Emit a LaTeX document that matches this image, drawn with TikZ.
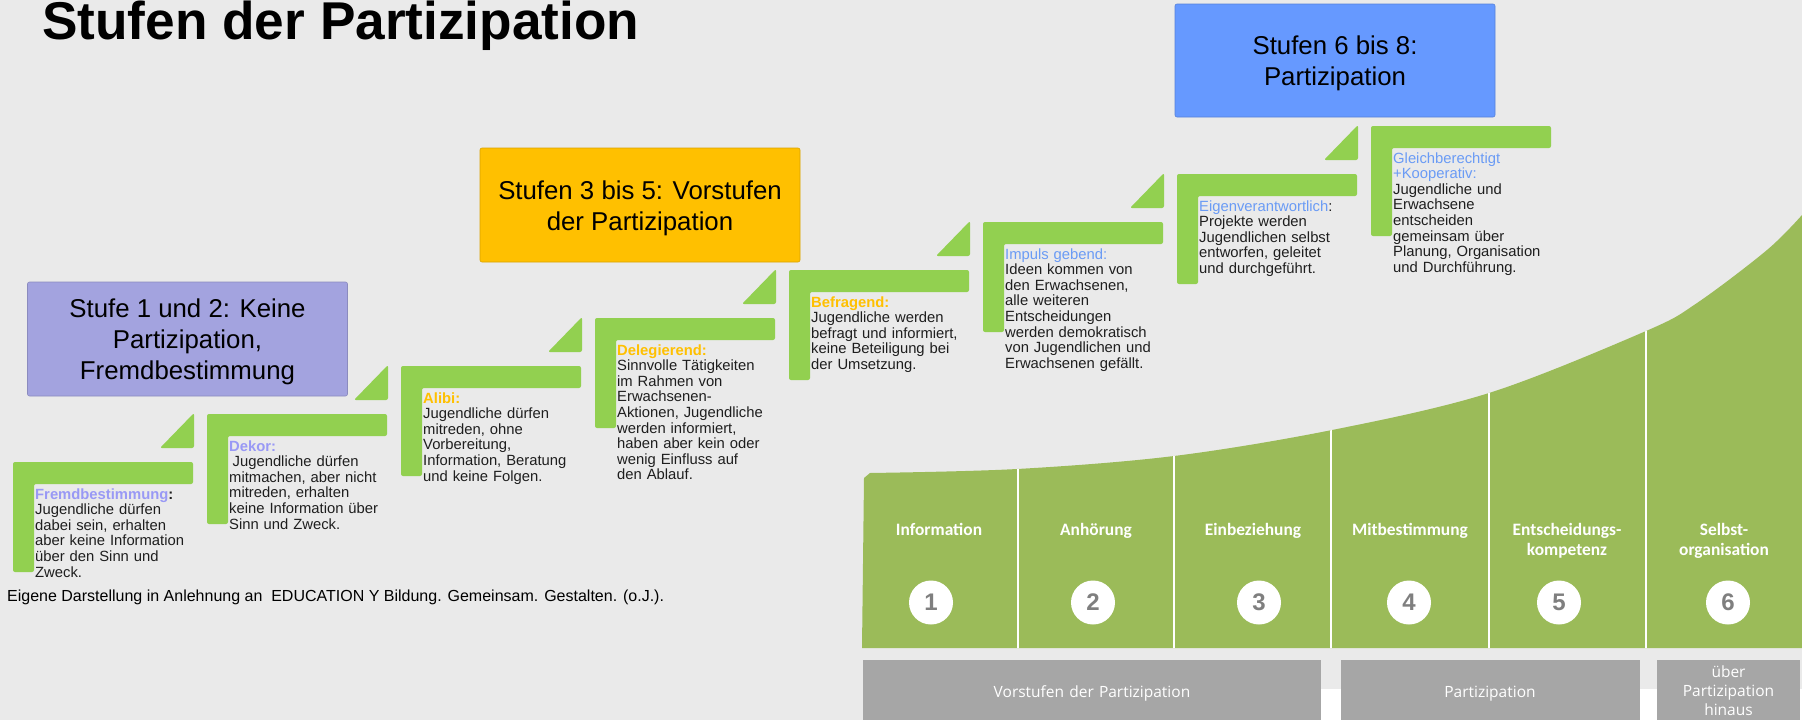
\documentclass[tikz,border=0pt]{standalone}
\usepackage{fontspec}
\setmainfont{Liberation Sans}
\newfontfamily\carl{Carlito}
\newfontfamily\opsans{Open Sans}
\definecolor{bg}{HTML}{EAEAEA}
\definecolor{stepgreen}{HTML}{92D050}
\definecolor{biggreen}{HTML}{9BBB59}
\definecolor{lavbox}{HTML}{A3A3DF}
\definecolor{orbox}{HTML}{FFC000}
\definecolor{bluebox}{HTML}{6699FF}
\definecolor{lavlab}{HTML}{9999F5}
\definecolor{orlab}{HTML}{FFC000}
\definecolor{bluelab}{HTML}{6A9BF5}
\definecolor{graybox}{HTML}{A6A6A6}
\definecolor{numgray}{HTML}{7F7F7F}
\definecolor{txt}{HTML}{1E1E1E}
\begin{document}
\begin{tikzpicture}[x=1pt,y=-1pt,
  stepshape/.style={fill=stepgreen, rounded corners=2pt},
  steptext/.style={anchor=base west, inner sep=0pt, text width=185pt, align=left,
    font=\fontsize{14.8pt}{15.6pt}\selectfont, text=txt},
  headbox/.style={draw=#1!85!black, line width=0.6pt, fill=#1, rounded corners=2pt,
    minimum width=320pt, minimum height=114pt, inner sep=0pt},
  headtext/.style={inner sep=0pt, align=center, yshift=-3pt,
    font=\fontsize{25.8pt}{30.7pt}\selectfont, text=black},
  collabel/.style={anchor=base, inner sep=0pt, text width=150pt, align=center,
    font=\carl\bfseries\fontsize{17.4pt}{20pt}\selectfont, text=white},
  numcircle/.style={circle, fill=white, minimum size=44pt, inner sep=0pt,
    font=\bfseries\fontsize{24pt}{24pt}\selectfont, text=numgray},
  graylabel/.style={anchor=base, inner sep=0pt, text width=300pt, align=center,
    font=\opsans\fontsize{15.5pt}{19pt}\selectfont, text=white}
]
\useasboundingbox (0,0) rectangle (1802,720);
\fill[bg] (0,0) rectangle (1802,720);

% title
\node[anchor=base west, inner sep=0pt, font=\bfseries\fontsize{53.2pt}{60pt}\selectfont] (title) at (42,39) {Stufen der Partizipation};

% header boxes
\node[headbox=lavbox] (h1) at (187.5,339) {};
\node[headtext] (h1t) at (h1.center) {Stufe 1 und 2: Keine\\Partizipation,\\Fremdbestimmung};
\node[headbox=orbox] (h2) at (640,205) {};
\node[headtext] (h2t) at (h2.center) {Stufen 3 bis 5: Vorstufen\\der Partizipation};
\node[headbox=bluebox, minimum height=113pt] (h3) at (1335,60.5) {};
\node[headtext] (h3t) at (h3.center) {Stufen 6 bis 8:\\Partizipation};

% stair steps
\foreach \n in {0,...,7}{
  \pgfmathsetmacro{\l}{13+194*\n}
  \pgfmathsetmacro{\t}{462-48*\n}
  \fill[stepshape] (\l,\t) -- (\l+180,\t) -- (\l+180,\t+22) -- (\l+21,\t+22) -- (\l+21,\t+110) -- (\l,\t+110) -- cycle;
}
\foreach \n in {0,...,6}{
  \pgfmathsetmacro{\l}{13+194*\n}
  \pgfmathsetmacro{\t}{462-48*\n}
  \fill[stepshape] (\l+147,\t-14) -- (\l+181,\t-14) -- (\l+181,\t-49) -- cycle;
}

% step texts
\node[steptext] (s0) at (35,499) {\textbf{{\color{lavlab}Fremdbestimmung}:}\\Jugendliche dürfen\\dabei sein, erhalten\\aber keine Information\\über den Sinn und\\Zweck.};
\node[steptext] (s1) at (229,451) {\textbf{\color{lavlab}Dekor:}\\\hspace*{3.5pt}Jugendliche dürfen\\mitmachen, aber nicht\\mitreden, erhalten\\keine Information über\\Sinn und Zweck.};
\node[steptext] (s2) at (423,403) {\textbf{\color{orlab}Alibi:}\\Jugendliche dürfen\\mitreden, ohne\\Vorbereitung,\\Information, Beratung\\und keine Folgen.};
\node[steptext] (s3) at (617,355) {\textbf{\color{orlab}Delegierend:}\\Sinnvolle Tätigkeiten\\im Rahmen von\\Erwachsenen-\\Aktionen, Jugendliche\\werden informiert,\\haben aber kein oder\\wenig Einfluss auf\\den Ablauf.};
\node[steptext] (s4) at (811,307) {\textbf{\color{orlab}Befragend:}\\Jugendliche werden\\befragt und informiert,\\keine Beteiligung bei\\der Umsetzung.};
\node[steptext] (s5) at (1005,259) {{\color{bluelab}Impuls gebend:}\\Ideen kommen von\\den Erwachsenen,\\alle weiteren\\Entscheidungen\\werden demokratisch\\von Jugendlichen und\\Erwachsenen gefällt.};
\node[steptext] (s6) at (1199,211) {{\color{bluelab}Eigenverantwortlich}:\\Projekte werden\\Jugendlichen selbst\\entworfen, geleitet\\und durchgeführt.};
\node[steptext] (s7) at (1393,163) {{\color{bluelab}Gleichberechtigt\\+Kooperativ:}\\Jugendliche und\\Erwachsene\\entscheiden\\gemeinsam über\\Planung, Organisation\\und Durchführung.};

% caption
\node[anchor=base west, inner sep=0pt, font=\fontsize{16pt}{18pt}\selectfont] (cap) at (7,601) {Eigene Darstellung in Anlehnung an\ \ EDUCATION Y Bildung. Gemeinsam. Gestalten. (o.J.).};

% big green graphic
\def\greenpath{(862,648) -- (864,478) -- (870,473) -- plot[smooth, tension=0.55] coordinates {(870,473) (1017,469) (1174,456) (1332,430) (1489,393) (1646,331) (1697,303) (1767,250) (1802,215)} -- (1802,648) -- cycle}
\fill[biggreen] \greenpath;
\begin{scope}
\clip \greenpath;
\foreach \x in {1018,1174,1331,1489,1646}{
  \draw[white, line width=2.6pt] (\x,150) -- (\x,650);
}
\end{scope}

% column labels
\node[collabel] (l1) at (939,535) {Information};
\node[collabel] (l2) at (1096,535) {Anhörung};
\node[collabel] (l3) at (1253,535) {Einbeziehung};
\node[collabel] (l4) at (1410,535) {Mitbestimmung};
\node[collabel] (l5) at (1567,535) {Entscheidungs-\\kompetenz};
\node[collabel] (l6) at (1724,535) {Selbst-\\organisation};

% number circles
\node[numcircle] (c1) at (931,602.5) {1};
\node[numcircle] (c2) at (1093,602.5) {2};
\node[numcircle] (c3) at (1259,602.5) {3};
\node[numcircle] (c4) at (1409,602.5) {4};
\node[numcircle] (c5) at (1559,602.5) {5};
\node[numcircle] (c6) at (1728,602.5) {6};

% bottom bands
\fill[white] (1321,689) rectangle (1802,720);
\fill[graybox] (863,660) rectangle (1321,722);
\fill[graybox] (1341,660) rectangle (1640,722);
\fill[graybox] (1657,660) rectangle (1800,722);
\node[graylabel] (g1) at (1092,697) {Vorstufen der Partizipation};
\node[graylabel] (g2) at (1490,697) {Partizipation};
\node[graylabel, text width=140pt] (g3) at (1728.5,677) {über\\Partizipation\\hinaus};
\end{tikzpicture}
\end{document}
